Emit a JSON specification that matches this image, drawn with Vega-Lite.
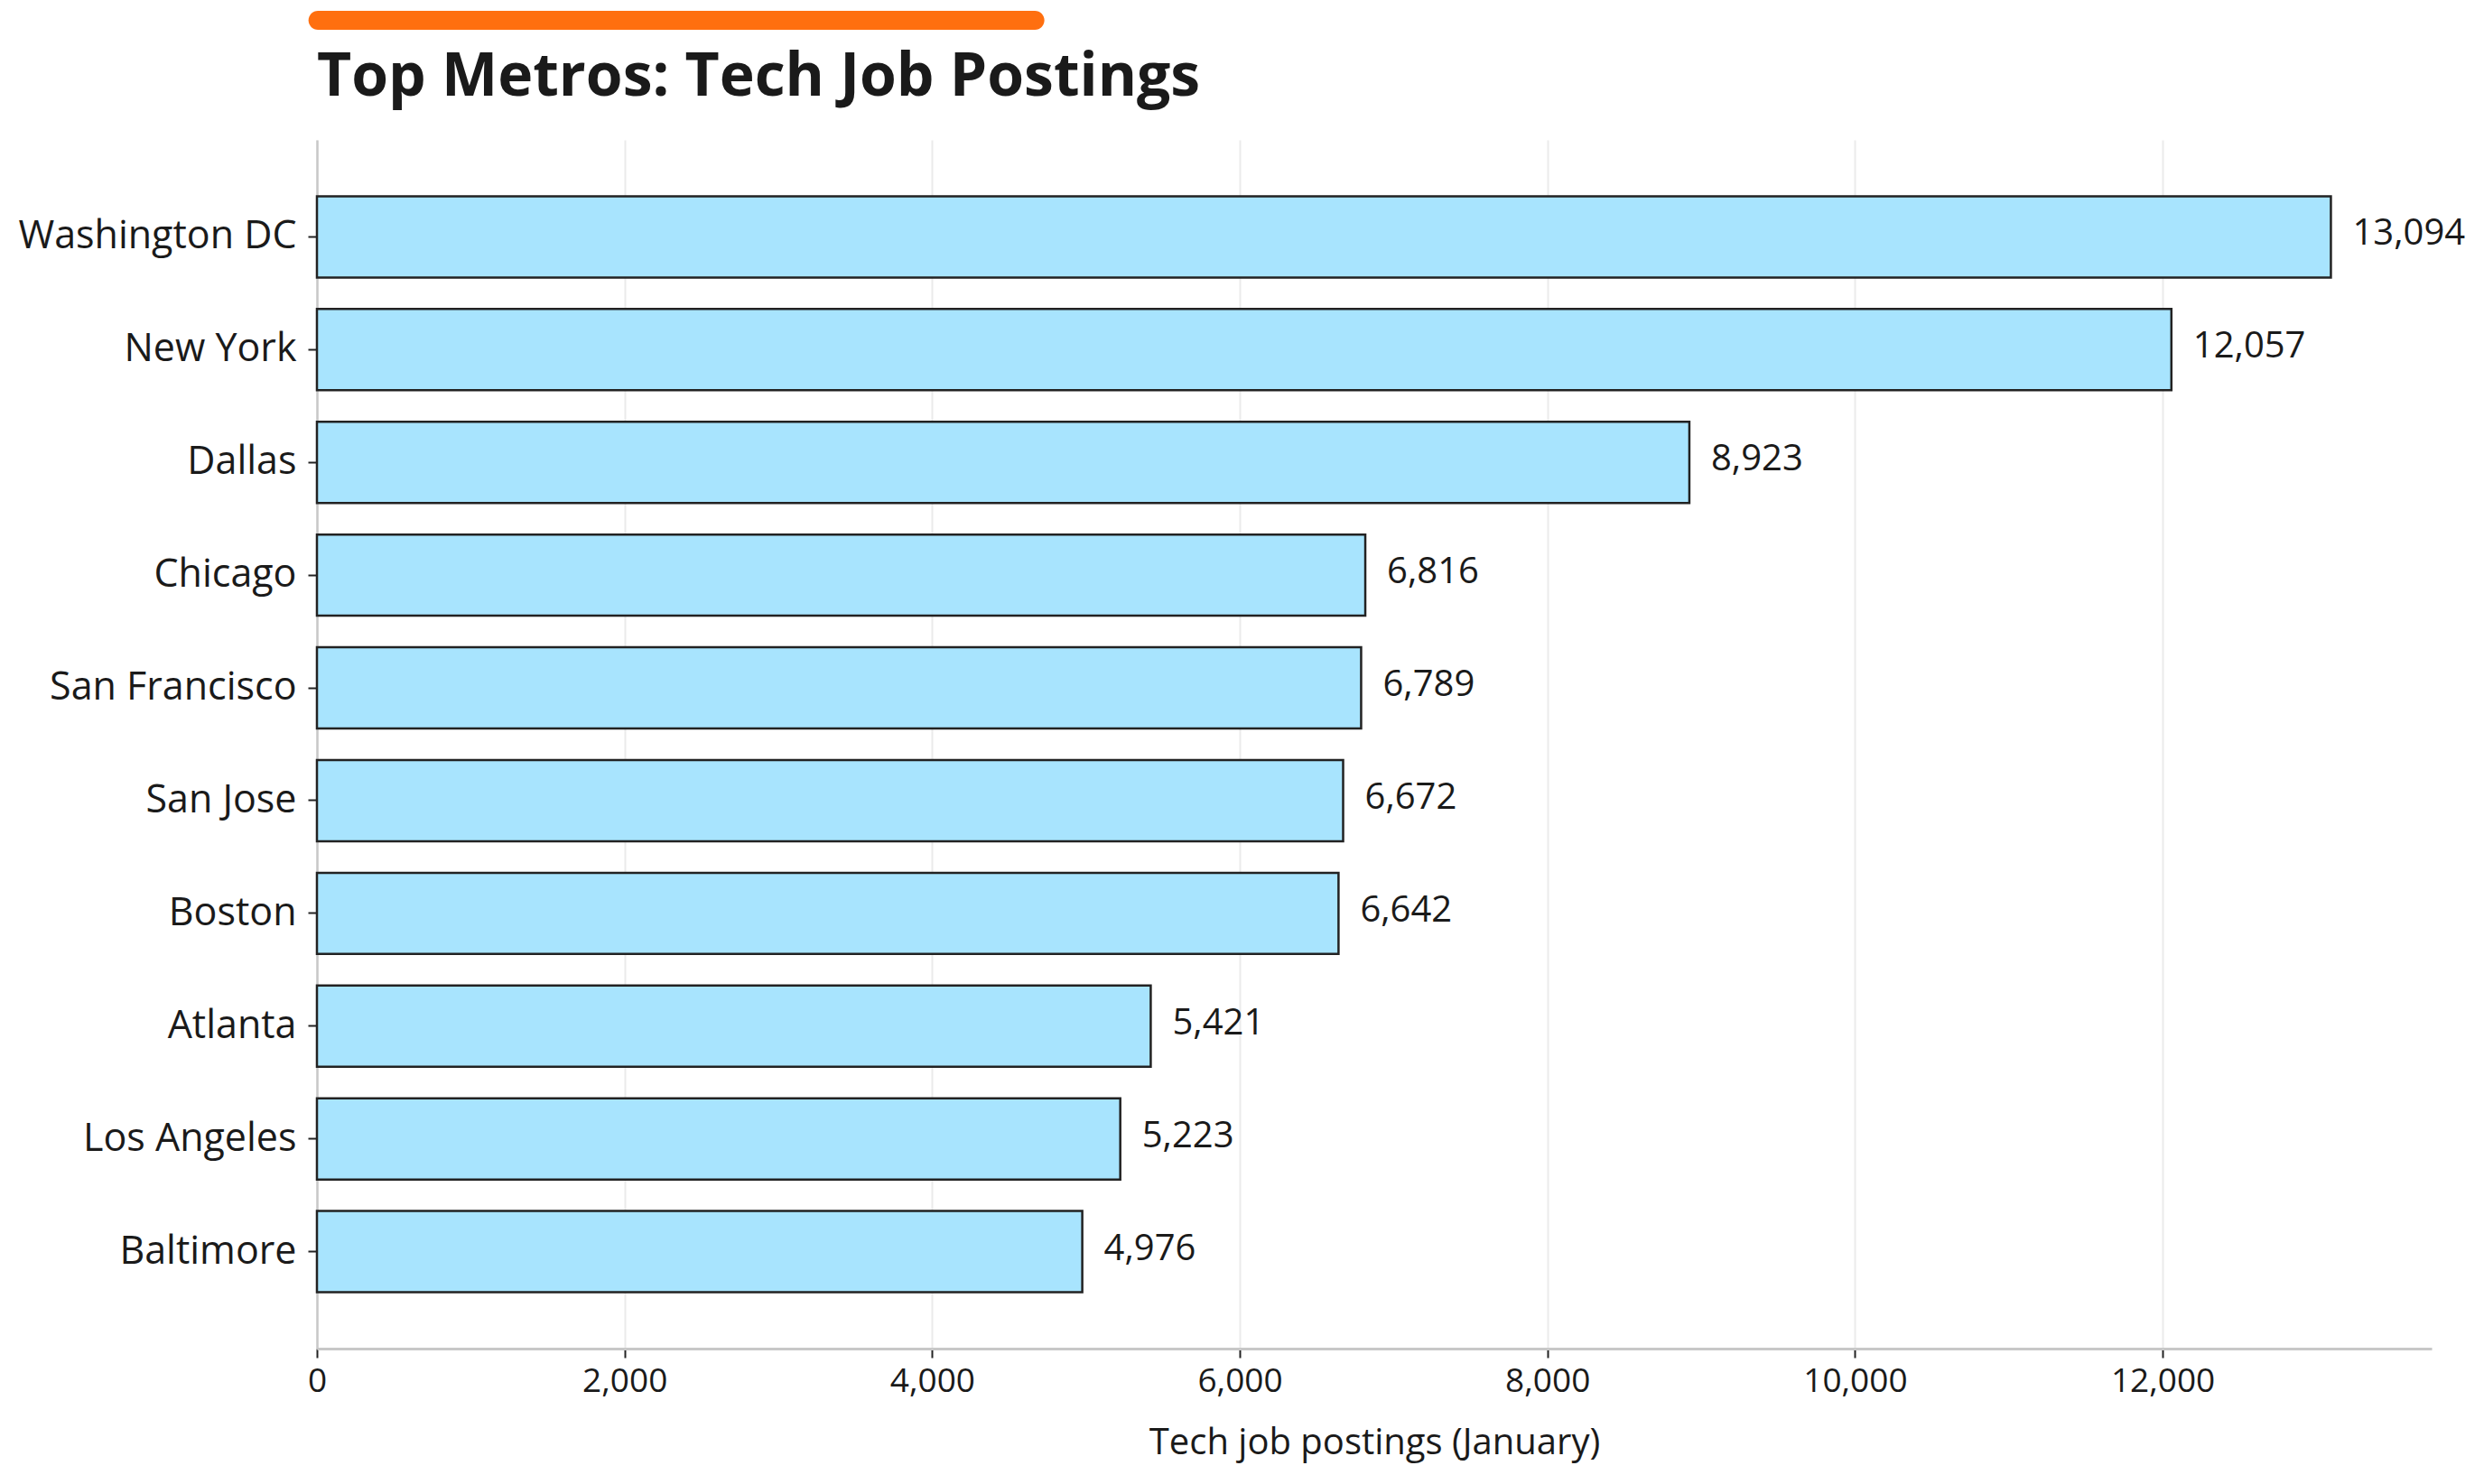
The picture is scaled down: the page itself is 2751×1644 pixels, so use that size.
{
  "$schema": "https://vega.github.io/schema/vega-lite/v6.json",
  "background": "white",
  "padding": {"left": 19, "top": 12, "right": 5, "bottom": 5},
  "config": {
    "font": "Open Sans",
    "view": {"stroke": null},
    "concat": {"spacing": 20}
  },
  "vconcat": [
    {
      "width": 2342,
      "height": 21,
      "data": {"values": [{"accent": "title bar"}]},
      "mark": {"type": "rect", "color": "#ff6f0f", "cornerRadius": 10.5},
      "encoding": {
        "x": {"datum": -0.004, "type": "quantitative", "scale": {"domain": [0, 1]}, "axis": null},
        "x2": {"datum": 0.344},
        "y": {"datum": 0, "type": "quantitative", "scale": {"domain": [0, 1]}, "axis": null},
        "y2": {"datum": 1}
      }
    },
    {
      "title": {
        "text": "Top Metros: Tech Job Postings",
        "anchor": "start",
        "frame": "group",
        "fontSize": 66,
        "fontWeight": "bold",
        "color": "#1a1a1a",
        "offset": 35
      },
      "width": 2342,
      "height": 1339,
      "data": {
        "values": [
          {"metro": "Washington DC", "postings": 13094},
          {"metro": "New York", "postings": 12057},
          {"metro": "Dallas", "postings": 8923},
          {"metro": "Chicago", "postings": 6816},
          {"metro": "San Francisco", "postings": 6789},
          {"metro": "San Jose", "postings": 6672},
          {"metro": "Boston", "postings": 6642},
          {"metro": "Atlanta", "postings": 5421},
          {"metro": "Los Angeles", "postings": 5223},
          {"metro": "Baltimore", "postings": 4976}
        ]
      },
      "encoding": {
        "y": {
          "field": "metro",
          "type": "nominal",
          "sort": null,
          "scale": {"paddingInner": 0.28, "paddingOuter": 0.5},
          "axis": {
            "title": null,
            "labelFontSize": 43,
            "labelColor": "#1a1a1a",
            "labelPadding": 13,
            "labelLimit": 1000,
            "tickSize": 10,
            "tickColor": "#222222",
            "tickWidth": 2,
            "domainColor": "#c8c8c8",
            "domainWidth": 2.5,
            "grid": false
          }
        },
        "x": {
          "field": "postings",
          "type": "quantitative",
          "scale": {"domain": [0, 13749], "nice": false},
          "axis": {
            "title": "Tech job postings (January)",
            "titleFontSize": 40,
            "titleFontWeight": "normal",
            "titleColor": "#1a1a1a",
            "titlePadding": 30,
            "values": [0, 2000, 4000, 6000, 8000, 10000, 12000],
            "format": ",.0f",
            "labelFontSize": 37,
            "labelColor": "#1a1a1a",
            "labelPadding": 8,
            "labelFlush": false,
            "tickSize": 10,
            "tickColor": "#222222",
            "tickWidth": 2,
            "domainColor": "#c8c8c8",
            "domainWidth": 3,
            "grid": true,
            "gridColor": "#ebebeb",
            "gridWidth": 2
          }
        }
      },
      "layer": [
        {"mark": {"type": "bar", "fill": "#a8e4fe", "stroke": "#222222", "strokeWidth": 2.5}},
        {
          "mark": {"type": "text", "align": "left", "dx": 24, "dy": -3, "fontSize": 40, "color": "#1a1a1a"},
          "encoding": {"text": {"field": "postings", "type": "quantitative", "format": ",.0f"}}
        }
      ]
    }
  ]
}
